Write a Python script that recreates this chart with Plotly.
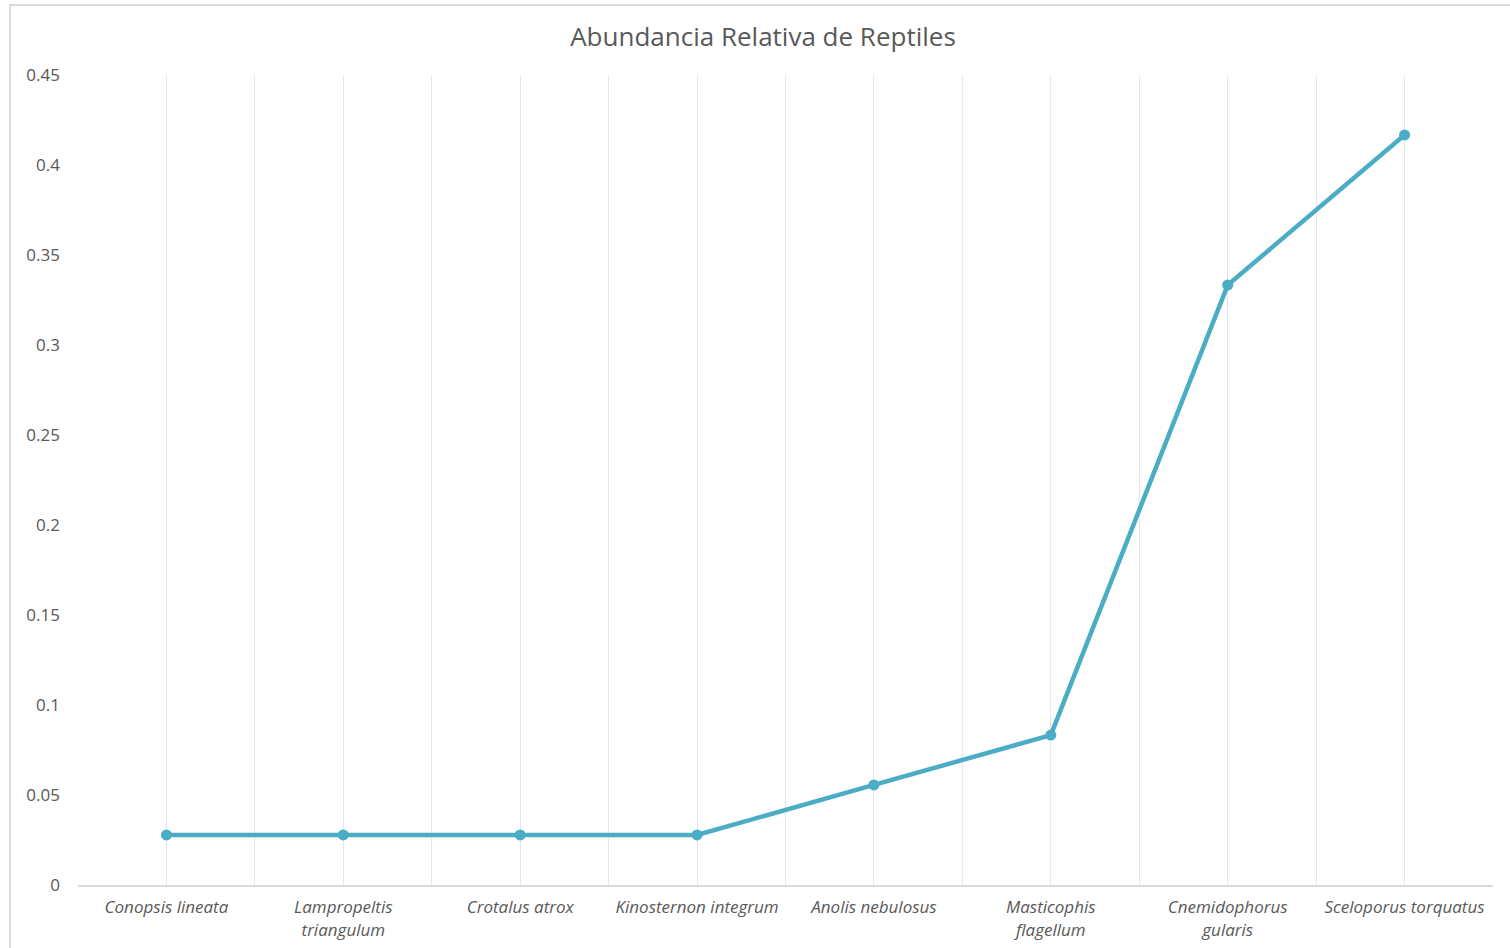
import plotly.graph_objects as go

# Species and their relative abundance (count / total of 36 records)
species = [
    "Conopsis lineata",
    "Lampropeltis<br>triangulum",
    "Crotalus atrox",
    "Kinosternon integrum",
    "Anolis nebulosus",
    "Masticophis<br>flagellum",
    "Cnemidophorus<br>gularis",
    "Sceloporus torquatus",
]
abundance = [0.0278, 0.0278, 0.0278, 0.0278, 0.0556, 0.0833, 0.3333, 0.4167]
y_ticks = [0, 0.05, 0.1, 0.15, 0.2, 0.25, 0.3, 0.35, 0.4, 0.45]

positions = list(range(len(species)))

W, H = 1510, 948
ML, MR, MT, MB = 78, 17, 75, 63
TEXT = "#595959"
GRID = "#E6E6E6"
LINE = "#4BACC6"
FONT = "Open Sans, Noto Sans, sans-serif"

fig = go.Figure(
    go.Scatter(
        x=positions,
        y=abundance,
        mode="lines+markers",
        line=dict(color=LINE, width=4.5),
        marker=dict(color=LINE, size=11),
        hoverinfo="y",
    )
)

pw = W - ML - MR
ph = H - MT - MB
# light frame around the chart area (extends past the right/bottom edges)
fig.add_shape(
    type="rect", xref="paper", yref="paper",
    x0=(10 - ML) / pw, x1=(W + 20 - ML) / pw,
    y0=-(H + 20 - MT - ph) / ph, y1=1 + (MT - 5) / ph,
    line=dict(color="#D9D9D9", width=2), fillcolor="rgba(0,0,0,0)", layer="below",
)

fig.update_layout(
    width=W, height=H,
    margin=dict(l=ML, r=MR, t=MT, b=MB),
    paper_bgcolor="white", plot_bgcolor="white",
    showlegend=False,
    font=dict(family=FONT, color=TEXT),
    title=dict(
        text="Abundancia Relativa de Reptiles",
        x=763 / W, xref="container", xanchor="center",
        y=1 - 37 / H, yanchor="middle",
        font=dict(size=26, color=TEXT, family=FONT),
    ),
    xaxis=dict(
        range=[-0.5, 7.5],
        tickmode="array", tickvals=positions, ticktext=species,
        tickfont=dict(size=17, color=TEXT, family=FONT, style="italic"),
        showgrid=True, gridcolor=GRID, gridwidth=1,
        minor=dict(tick0=-0.5, dtick=1, showgrid=True, gridcolor=GRID, gridwidth=1),
        showline=True, linecolor="#D9D9D9", linewidth=2,
        ticks="", zeroline=False, fixedrange=True,
        ticklabelstandoff=6, automargin=False,
    ),
    yaxis=dict(
        range=[0, 0.45],
        tickmode="array", tickvals=y_ticks,
        tickfont=dict(size=17, color=TEXT, family=FONT),
        showgrid=False, zeroline=False, showline=False,
        ticks="", ticklabelstandoff=17, automargin=False,
    ),
)

fig.write_html("out.html")
